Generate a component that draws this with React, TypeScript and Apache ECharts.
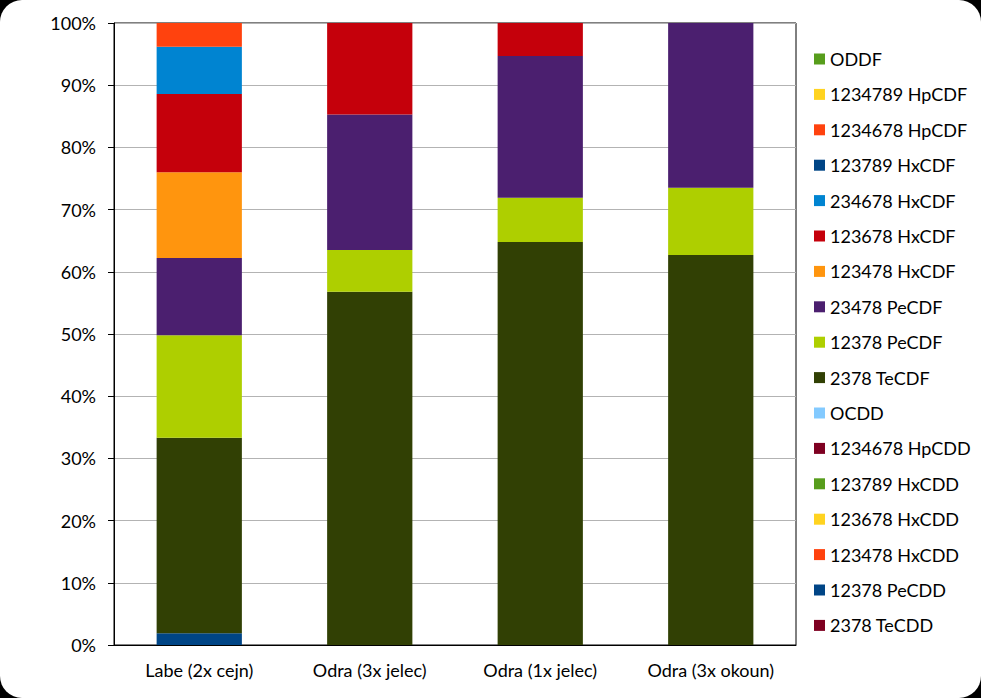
import React, { useEffect, useRef } from "react";
import * as echarts from "echarts";

const categories = ["Labe (2x cejn)", "Odra (3x jelec)", "Odra (1x jelec)", "Odra (3x okoun)"];

// stacking order, bottom to top
const seriesNames = [
  "2378 TeCDD",
  "12378 PeCDD",
  "123478 HxCDD",
  "123678 HxCDD",
  "123789 HxCDD",
  "1234678 HpCDD",
  "OCDD",
  "2378 TeCDF",
  "12378 PeCDF",
  "23478 PeCDF",
  "123478 HxCDF",
  "123678 HxCDF",
  "234678 HxCDF",
  "123789 HxCDF",
  "1234678 HpCDF",
  "1234789 HpCDF",
  "ODDF",
];

const seriesColors = [
  "#7E0021",
  "#004586",
  "#FF420E",
  "#FFD320",
  "#579D1C",
  "#7E0021",
  "#83CAFF",
  "#314004",
  "#AECF00",
  "#4B1F6F",
  "#FF950E",
  "#C5000B",
  "#0084D1",
  "#004586",
  "#FF420E",
  "#FFD320",
  "#579D1C",
];

const teCDD = [0, 0, 0, 0];
const peCDD = [1.9, 0, 0, 0];
const hxCDD123478 = [0, 0, 0, 0];
const hxCDD123678 = [0, 0, 0, 0];
const hxCDD123789 = [0, 0, 0, 0];
const hpCDD = [0, 0, 0, 0];
const ocdd = [0, 0, 0, 0];
const teCDF = [31.4, 56.8, 64.8, 62.7];
const peCDF12378 = [16.5, 6.7, 7.1, 10.8];
const peCDF23478 = [12.4, 21.8, 22.8, 26.5];
const hxCDF123478 = [13.8, 0, 0, 0];
const hxCDF123678 = [12.6, 14.7, 5.3, 0];
const hxCDF234678 = [7.6, 0, 0, 0];
const hxCDF123789 = [0, 0, 0, 0];
const hpCDF1234678 = [3.8, 0, 0, 0];
const hpCDF1234789 = [0, 0, 0, 0];
const oddf = [0, 0, 0, 0];

const seriesValues = [
  teCDD,
  peCDD,
  hxCDD123478,
  hxCDD123678,
  hxCDD123789,
  hpCDD,
  ocdd,
  teCDF,
  peCDF12378,
  peCDF23478,
  hxCDF123478,
  hxCDF123678,
  hxCDF234678,
  hxCDF123789,
  hpCDF1234678,
  hpCDF1234789,
  oddf,
];

const FONT = "Lato";

export default function App() {
  const ref = useRef<HTMLDivElement>(null);

  useEffect(() => {
    document.body.style.margin = "0";
    const chart = echarts.init(ref.current!, null, { renderer: "svg" });
    chart.setOption({
      animation: false,
      textStyle: { fontFamily: FONT },
      grid: {
        left: 114,
        right: 185,
        top: 23,
        bottom: 53,
        show: true,
        borderColor: "#000",
        borderWidth: 1,
        backgroundColor: "transparent",
      },
      legend: {
        orient: "vertical",
        left: 814,
        top: 49,
        padding: 0,
        itemWidth: 11,
        itemHeight: 11,
        itemGap: 15.4,
        icon: "rect",
        data: seriesNames.slice().reverse(),
        textStyle: { fontFamily: FONT, fontSize: 18, color: "#000", lineHeight: 20 },
      },
      xAxis: {
        type: "category",
        data: categories,
        axisLine: { show: true, lineStyle: { color: "#000", width: 1 } },
        axisTick: { show: false },
        axisLabel: { fontFamily: FONT, fontSize: 18, color: "#000", margin: 16 },
        splitLine: { show: false },
      },
      yAxis: {
        type: "value",
        min: 0,
        max: 100,
        interval: 10,
        axisLine: { show: true, lineStyle: { color: "#000", width: 1 } },
        axisTick: { show: true, length: 6, lineStyle: { color: "#000" } },
        axisLabel: {
          fontFamily: FONT,
          fontSize: 18,
          color: "#000",
          margin: 18,
          formatter: "{value}%",
        },
        splitLine: { show: true, lineStyle: { color: "#B3B3B3", width: 1 } },
      },
      series: seriesNames.map((name, i) => ({
        name,
        type: "bar",
        stack: "total",
        barWidth: "50%",
        data: seriesValues[i],
        itemStyle: { color: seriesColors[i] },
      })),
    });
    return () => chart.dispose();
  }, []);

  return (
    <div style={{ position: "fixed", left: 0, top: 0, width: 981, height: 698, background: "#000" }}>
      <div style={{ position: "absolute", inset: 0, background: "#fff", borderRadius: 22 }}>
        <div ref={ref} style={{ width: 981, height: 698 }} />
      </div>
    </div>
  );
}
